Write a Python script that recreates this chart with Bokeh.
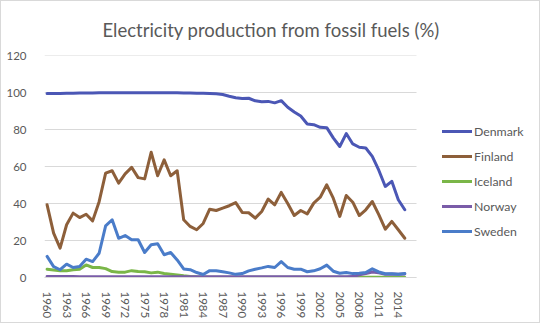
from bokeh.plotting import figure
from bokeh.models import ColumnDataSource, FixedTicker, Legend, LegendItem, Range1d
from bokeh.embed import file_html
from bokeh.resources import INLINE

years = list(range(1960, 2016))
tick_years = list(range(1960, 2016, 3))
y_ticks = [0, 20, 40, 60, 80, 100, 120]

denmark = [99.4, 99.5, 99.5, 99.6, 99.6, 99.7, 99.7, 99.7, 99.8, 99.8,
           99.8, 99.9, 99.9, 99.9, 99.9, 99.9, 99.9, 99.9, 99.9, 99.8,
           99.8, 99.7, 99.7, 99.6, 99.6, 99.5, 99.3, 98.9, 98.0, 97.2,
           96.8, 96.9, 95.5, 95.0, 95.2, 94.4, 95.6, 92.0, 89.5, 87.3,
           83.0, 82.6, 81.2, 81.0, 75.5, 70.8, 77.8, 72.2, 70.4, 70.0,
           65.5, 58.0, 49.2, 52.0, 42.0, 36.6]
finland = [39.3, 24.0, 15.9, 28.5, 34.8, 32.4, 34.2, 30.6, 41.0, 56.4,
           57.7, 51.0, 56.0, 59.5, 54.0, 53.3, 67.7, 55.0, 63.6, 55.0,
           57.7, 31.2, 27.6, 25.8, 29.2, 36.9, 36.2, 37.5, 38.8, 40.5,
           35.2, 35.0, 32.1, 35.7, 42.4, 39.3, 46.0, 40.0, 33.5, 36.2,
           34.4, 40.2, 43.4, 50.1, 42.9, 33.0, 44.3, 40.7, 33.5, 36.6,
           41.1, 34.0, 26.1, 30.3, 25.8, 21.2]
iceland = [4.5, 4.0, 3.7, 3.6, 4.2, 4.5, 6.8, 5.4, 5.4, 4.8,
           3.2, 2.9, 2.9, 3.7, 3.2, 3.1, 2.5, 2.9, 2.2, 1.8,
           1.4, 0.9, 0.6, 0.4, 0.3, 0.2, 0.1, 0.1, 0.1, 0.1,
           0.1, 0.1, 0.1, 0.1, 0.1, 0.1, 0.1, 0.1, 0.1, 0.1,
           0.1, 0.1, 0.1, 0.1, 0.1, 0.1, 0.1, 0.1, 0.1, 0.1,
           0.1, 0.1, 0.1, 0.1, 0.1, 0.1]
norway = [0.6, 0.5, 0.5, 0.5, 0.5, 0.4, 0.4, 0.4, 0.4, 0.4,
          0.4, 0.4, 0.4, 0.4, 0.4, 0.4, 0.4, 0.4, 0.4, 0.4,
          0.4, 0.4, 0.4, 0.4, 0.4, 0.4, 0.4, 0.4, 0.4, 0.4,
          0.4, 0.4, 0.4, 0.4, 0.4, 0.4, 0.4, 0.4, 0.4, 0.4,
          0.4, 0.4, 0.4, 0.4, 0.4, 0.4, 0.4, 0.5, 1.5, 2.2,
          3.0, 2.5, 1.8, 1.9, 1.7, 1.9]
sweden = [11.4, 5.9, 4.2, 7.2, 5.4, 5.9, 9.9, 8.6, 13.1, 27.9,
          31.2, 21.2, 22.7, 20.4, 20.4, 13.5, 17.7, 18.2, 12.3, 13.5,
          9.5, 4.6, 4.2, 2.7, 1.6, 3.7, 3.7, 3.1, 2.5, 1.7,
          2.1, 3.6, 4.5, 5.2, 6.0, 5.4, 8.6, 5.4, 4.5, 4.5,
          3.1, 3.6, 4.7, 6.7, 3.4, 2.3, 2.7, 2.1, 2.3, 2.7,
          4.7, 3.0, 2.0, 2.0, 1.8, 2.2]

series_names = ["Denmark", "Finland", "Iceland", "Norway", "Sweden"]
series_values = [denmark, finland, iceland, norway, sweden]
colors = ["#4b57b5", "#8d5f3a", "#7ab648", "#7a5ca8", "#4a7cc9"]

FONT = "Lato"
TXT = "#595959"
GRID = "#d9d9d9"

X0, X1 = 1959.6, 2016.8          # extent of the category axis
PX_PER_YEAR = 372 / (X1 - X0)
FRAME_W = 492
X_END = X0 + FRAME_W / PX_PER_YEAR  # frame extends under the legend

p = figure(width=540, height=323, output_backend="svg", toolbar_location=None,
           x_range=Range1d(X0, X_END), y_range=Range1d(0, 120),
           min_border_left=43, min_border_right=5, min_border_top=54,
           min_border_bottom=47)
p.styles = {"border": "1px solid #d9d9d9", "box-sizing": "border-box"}
p.outline_line_color = None
p.background_fill_color = "white"
p.border_fill_color = "white"

p.title.text = "Electricity production from fossil fuels (%)"
p.title.text_font = FONT
p.title.text_font_size = "18.5px"
p.title.text_font_style = "normal"
p.title.text_color = TXT
p.title.align = "left"
p.title.offset = 58
p.title.standoff = 29

# horizontal gridlines limited to the category axis extent
p.segment(x0=[X0] * len(y_ticks), y0=y_ticks, x1=[X1] * len(y_ticks), y1=y_ticks,
          line_color=GRID, line_width=1)

src = ColumnDataSource(dict(year=years, **{n: v for n, v in zip(series_names, series_values)}))
items = []
for name, col in zip(series_names, colors):
    r = p.line("year", name, source=src, line_color=col, line_width=3,
               line_join="round", line_cap="round")
    items.append(LegendItem(label=name, renderers=[r]))

legend = Legend(items=items, location=(398, 36))
legend.background_fill_alpha = 0
legend.border_line_color = None
legend.padding = 0
legend.margin = 0
legend.spacing = 5
legend.glyph_width = 30
legend.glyph_height = 20
legend.label_height = 20
legend.label_standoff = 2
legend.label_text_font = FONT
legend.label_text_font_size = "12.3px"
legend.label_text_color = TXT
p.add_layout(legend, "center")

p.xaxis.ticker = FixedTicker(ticks=tick_years)
p.xaxis.bounds = (X0, X1)
p.xaxis.major_label_orientation = "vertical"
p.xaxis.major_tick_line_color = None
p.xaxis.minor_tick_line_color = None
p.xaxis.axis_line_color = GRID
p.xaxis.major_label_text_font = FONT
p.xaxis.major_label_text_font_size = "11.5px"
p.xaxis.major_label_text_color = TXT
p.xaxis.major_label_standoff = 8

p.yaxis.ticker = FixedTicker(ticks=y_ticks)
p.yaxis.major_tick_line_color = None
p.yaxis.minor_tick_line_color = None
p.yaxis.axis_line_color = None
p.yaxis.major_label_text_font = FONT
p.yaxis.major_label_text_font_size = "11.5px"
p.yaxis.major_label_text_color = TXT
p.yaxis.major_label_standoff = 12

p.xgrid.grid_line_color = None
p.ygrid.grid_line_color = None

open("out.html", "w").write(file_html(p, INLINE))
